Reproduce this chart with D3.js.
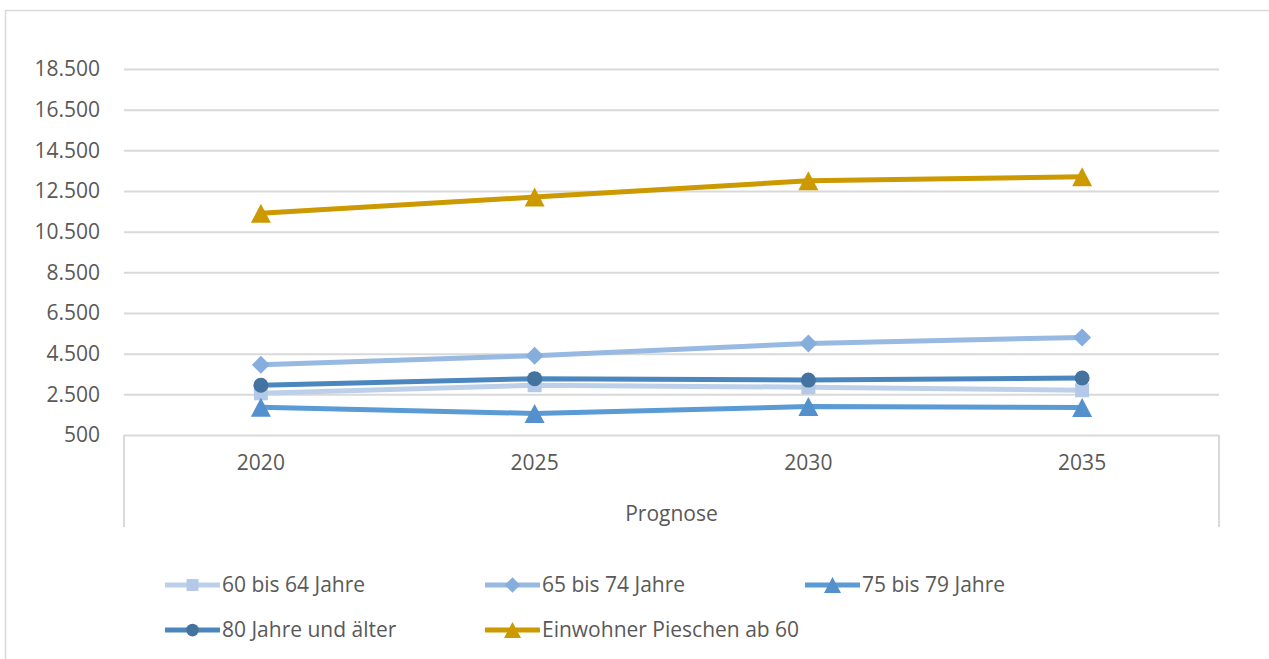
<!DOCTYPE html>
<html><head><meta charset="utf-8">
<script src="https://cdn.jsdelivr.net/npm/d3@7"></script>
<style>body{margin:0;background:#fff}svg{display:block}text{font-family:"Open Sans",sans-serif;fill:#595959}</style>
</head><body>
<svg id="c" width="1269" height="659"></svg>
<script>
const categories = ["2020","2025","2030","2035"];
const groupLabel = "Prognose";
const yTicks = [500,2500,4500,6500,8500,10500,12500,14500,16500,18500];
const s60_64 = [2550,2950,2850,2700];
const s65_74 = [3950,4400,5000,5300];
const s75_79 = [1870,1560,1900,1850];
const s80 = [2950,3270,3200,3300];
const sTotal = [11400,12200,13000,13200];
const seriesNames = ["60 bis 64 Jahre","65 bis 74 Jahre","75 bis 79 Jahre","80 Jahre und älter","Einwohner Pieschen ab 60"];

const styles = [
  {line:"#bdd0ea", mark:"#b4c9e8", shape:"square"},
  {line:"#98b9e2", mark:"#86aedd", shape:"diamond"},
  {line:"#5b9bd5", mark:"#5490cc", shape:"triangle"},
  {line:"#4b87be", mark:"#44739f", shape:"circle"},
  {line:"#cc9a00", mark:"#cc9a00", shape:"triangle"}
];
const seriesData = [s60_64,s65_74,s75_79,s80,sTotal];

function shapePath(shape, k){
  k = k||1;
  if(shape==="square"){const s=7*k;return `M${-s},${-s}H${s}V${s}H${-s}Z`;}
  if(shape==="diamond"){const s=9*k;return `M0,${-s}L${s},0L0,${s}L${-s},0Z`;}
  if(shape==="triangle"){const w=10*k,h=9.5*k;return `M0,${-h}L${w},${h}L${-w},${h}Z`;}
  if(shape==="circle"){const r=7.5*k;return `M${r},0A${r},${r} 0 1,1 ${-r},0A${r},${r} 0 1,1 ${r},0Z`;}
}

const svg = d3.select("#c");
const L=124,R=1219,T=69,B=435;
const FS=21;
const x = d3.scaleBand().domain(categories).range([L,R]);
const y = d3.scaleLinear().domain([500,18500]).range([B,T]);
const fmt = d3.formatLocale({decimal:",",thousands:".",grouping:[3],currency:["","€"]}).format(",");

// outer border
svg.append("rect").attr("x",5.5).attr("y",10.5).attr("width",1280).attr("height",700)
  .attr("fill","none").attr("stroke","#d9d9d9").attr("stroke-width",1.5);

// grid + y axis
const ya = svg.append("g").attr("transform",`translate(${L},0)`)
  .call(d3.axisLeft(y).tickValues(yTicks).tickFormat(fmt).tickSize(-(R-L)).tickPadding(24));
ya.select(".domain").remove();
ya.selectAll("line").attr("stroke","#d9d9d9").attr("stroke-width",2);
ya.selectAll("text").attr("font-size",FS).style("fill","#595959");

// category axis box
svg.append("line").attr("x1",L).attr("x2",L).attr("y1",B).attr("y2",527).attr("stroke","#d9d9d9").attr("stroke-width",2);
svg.append("line").attr("x1",R).attr("x2",R).attr("y1",B).attr("y2",527).attr("stroke","#d9d9d9").attr("stroke-width",2);
const xa = svg.append("g").attr("transform",`translate(0,${B})`)
  .call(d3.axisBottom(x).tickSize(0).tickPadding(20));
xa.select(".domain").remove();
xa.selectAll("text").attr("font-size",FS).style("fill","#595959");
svg.append("text").attr("x",(L+R)/2).attr("y",521).attr("text-anchor","middle").attr("font-size",FS).text(groupLabel);

// series
const cx = c => x(c)+x.bandwidth()/2;
const line = d3.line().x((d,i)=>cx(categories[i])).y(d=>y(d));
seriesData.forEach((vals,si)=>{
  const st = styles[si];
  const g = svg.append("g");
  g.append("path").attr("d",line(vals)).attr("fill","none").attr("stroke",st.line).attr("stroke-width",5).attr("stroke-linejoin","round");
  g.selectAll("path.m").data(vals).join("path").attr("class","m")
    .attr("transform",(d,i)=>`translate(${cx(categories[i])},${y(d)})`)
    .attr("d",shapePath(st.shape)).attr("fill",st.mark);
});

// legend
const legendPos = [[165,585],[485,585],[805,585],[165,630],[485,630]];
seriesNames.forEach((n,i)=>{
  const [lx,ly] = legendPos[i]; const st = styles[i];
  const g = svg.append("g").attr("transform",`translate(${lx},${ly})`);
  g.append("line").attr("x1",0).attr("x2",55).attr("y1",0).attr("y2",0).attr("stroke",st.line).attr("stroke-width",5);
  g.append("path").attr("transform","translate(27.5,0)").attr("d",shapePath(st.shape,0.85)).attr("fill",st.mark);
  g.append("text").attr("x",57).attr("y",7).attr("font-size",FS).text(n);
});
</script>
</body></html>
